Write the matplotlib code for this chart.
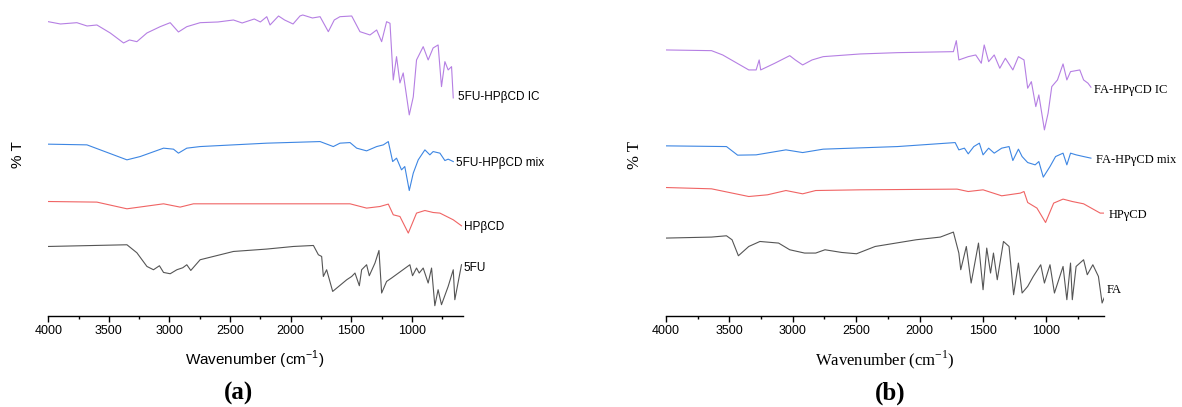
import numpy as np
import matplotlib
matplotlib.use('Agg')
import matplotlib.pyplot as plt
from matplotlib.ticker import MultipleLocator

# ---- panel (a): 5FU / HPbCD, values are %T with vertical offsets (a.u.) ----
a_ic_wn = [4000, 3900, 3764, 3680, 3599, 3489, 3379, 3330, 3269, 3186, 3077, 2994, 2926, 2857, 2747,
           2600, 2472, 2400, 2300, 2250, 2197, 2170, 2100, 2050, 1980, 1923, 1900, 1820, 1757, 1689,
           1640, 1593, 1496, 1428, 1345, 1290, 1249, 1208, 1180, 1153, 1126, 1098, 1071, 1021, 988,
           961, 906, 865, 824, 783, 755, 727, 700, 672, 658]
a_ic_t = [294.3, 292, 293.3, 290, 291, 283, 273, 276, 274.3, 283, 289.3, 293.3, 284, 289.3, 293.3,
          294, 296, 293, 297, 294, 299.3, 291, 300, 296, 292, 300, 301, 298, 299.3, 284.3,
          296, 299.3, 300, 284.3, 281, 286, 274.3, 294.3, 292.7, 236, 259.3, 233, 243, 201, 219,
          256, 269.3, 256, 268, 271, 229.3, 254.3, 246, 249.3, 218]

a_mix_wn = [4000, 3681, 3571, 3351, 3242, 3049, 2967, 2926, 2857, 2747, 2197, 1757, 1648, 1593, 1510,
            1455, 1373, 1290, 1235, 1194, 1158, 1126, 1085, 1058, 1021, 988, 947, 892, 851, 824, 768,
            727, 700, 658]
a_mix_t = [171.7, 171, 166, 156, 159.3, 167.7, 166.7, 162.7, 167.7, 169.3, 172.7, 174.3, 169.3, 172.7, 173.3,
           167.7, 165, 169.3, 171, 174.3, 154.3, 157.7, 146, 149.3, 125.3, 142.7, 156, 166, 161, 164.3, 162.7,
           155.3, 156.7, 154.3]

a_cd_wn = [4000, 3599, 3351, 3049, 2912, 2802, 2197, 1510, 1373, 1263, 1194, 1153, 1098, 1029, 961,
           892, 824, 768, 658, 590]
a_cd_t = [114.3, 113.7, 107, 112, 108.7, 112, 112, 112, 107.7, 109.3, 111.7, 101, 99.3, 82.7, 102.7,
          105.3, 103.3, 102.7, 96, 90]

a_drug_wn = [4000, 3351, 3269, 3186, 3132, 3083, 3049, 2994, 2939, 2890, 2857, 2824, 2747, 2472, 2197,
             1977, 1812, 1771, 1744, 1730, 1703, 1653, 1537, 1496, 1469, 1433, 1414, 1373, 1351, 1304,
             1271, 1249, 1208, 1167, 1016, 994, 961, 939, 906, 865, 837, 810, 783, 755, 700, 658, 645, 590]
a_drug_t = [69.3, 71, 63, 49.3, 46, 50, 43.3, 42, 46, 48, 51, 45.3, 56, 64.3, 66.7,
            69.3, 70.3, 61, 59.3, 39.3, 46, 24.3, 36, 39.3, 42.7, 30, 46, 51, 40, 52.7,
            65.3, 22.7, 34.3, 37.7, 51, 40, 47.7, 42.7, 47.7, 32.7, 47.7, 10, 26, 11, 29.3, 46, 16, 51]

# ---- panel (b): FA / HPgCD ----
b_ic_wn = [4000, 3641, 3553, 3347, 3289, 3265, 3253, 3142, 3024, 2980, 2922, 2848, 2760, 2467, 2174,
           1733, 1710, 1690, 1616, 1557, 1513, 1490, 1455, 1411, 1367, 1323, 1264, 1220, 1176, 1147,
           1118, 1083, 1059, 1015, 986, 957, 912, 868, 838, 809, 736, 706, 671, 648]
b_ic_t = [266, 265.3, 261, 246, 246, 256, 246, 252.7, 260.3, 256, 251, 256, 259.3, 262, 263.3,
          264.3, 275.3, 256, 259.3, 261, 252.7, 271, 254.3, 261, 247.7, 257.7, 246, 259.3, 256, 227.7,
          234.3, 209.3, 221, 186, 202.7, 229.3, 236, 252, 236, 244.3, 246, 236, 232.7, 228.7]

b_mix_wn = [4000, 3523, 3435, 3289, 3054, 2922, 2760, 2174, 1719, 1690, 1646, 1616, 1572, 1528, 1499,
            1455, 1411, 1352, 1294, 1264, 1220, 1191, 1147, 1088, 1059, 1024, 971, 927, 868, 838,
            809, 765, 706, 648]
b_mix_t = [170, 169.3, 160.7, 161, 166, 163.3, 166.7, 169.3, 173.3, 166, 167.7, 162, 169.3, 172.7, 161,
           167.7, 162.7, 167.7, 169.3, 155.3, 166.7, 159.3, 153.3, 151, 154.3, 138.7, 149.3, 159.3, 162.7, 151,
           162.7, 161, 159.3, 157.7]

b_cd_wn = [4000, 3641, 3347, 3200, 3054, 2922, 2819, 2467, 1704, 1616, 1499, 1352, 1205, 1176, 1147,
           1074, 1006, 942, 868, 795, 706, 575, 545]
b_cd_t = [128.3, 127, 119.3, 121, 125.3, 122, 125.3, 126, 126.7, 124.3, 126, 120, 122.7, 124.3, 113.3,
          107.7, 93.3, 112.7, 116.7, 114.3, 112, 102.7, 102.7]

b_drug_wn = [4000, 3641, 3523, 3479, 3429, 3347, 3259, 3112, 3024, 2907, 2819, 2746, 2614, 2497, 2350,
             2027, 1836, 1733, 1690, 1675, 1631, 1593, 1535, 1499, 1470, 1440, 1417, 1387, 1338, 1294,
             1258, 1220, 1191, 1147, 1103, 1044, 1015, 971, 936, 868, 838, 809, 795, 765, 706,
             677, 633, 589, 560, 539]
b_drug_t = [77.7, 78.7, 80, 76, 60, 69.3, 74.3, 72.7, 66, 62.7, 62.7, 66, 63.3, 62, 69.3,
            76, 78.7, 83.7, 62.7, 46, 69.3, 32.7, 72.7, 26, 67.7, 42.7, 62.7, 36, 74.3, 69.3,
            21, 52.7, 22.7, 29.3, 39.3, 51, 32.7, 51, 22.7, 49.3, 16, 52.7, 16, 49.3, 56,
            41, 51, 39.3, 12.7, 19.3]

labels_a = ['5FU-HPβCD IC', '5FU-HPβCD mix', 'HPβCD', '5FU']
labels_b = ['FA-HPγCD IC', 'FA-HPγCD mix', 'HPγCD', 'FA']
colors = ['#b57fe3', '#3d86e3', '#f06464', '#555555']

W, H = 1182, 407
fig = plt.figure(figsize=(W / 100, H / 100), dpi=100)


def px_axes(x0, x1, y_top, y_bot):
    return fig.add_axes([x0 / W, 1 - y_bot / H, (x1 - x0) / W, (y_bot - y_top) / H])


def style_axis(ax, xmax_wn):
    ax.set_xlim(4000, xmax_wn)
    ax.set_ylim(0, 311)
    for s in ['top', 'right', 'left']:
        ax.spines[s].set_visible(False)
    ax.spines['bottom'].set_linewidth(1.0)
    ax.set_yticks([])
    ax.xaxis.set_major_locator(MultipleLocator(500))
    ax.xaxis.set_minor_locator(MultipleLocator(250))
    ax.tick_params(axis='x', which='major', length=4.5, width=1, pad=2.5,
                   labelsize=9, labelfontfamily='Liberation Sans')
    ax.tick_params(axis='x', which='minor', length=2.5, width=1)


ax1 = px_axes(48.3, 462.7, 5, 315.7)
style_axis(ax1, 580)
series_a = [(a_ic_wn, a_ic_t), (a_mix_wn, a_mix_t), (a_cd_wn, a_cd_t), (a_drug_wn, a_drug_t)]
for (wn, t), c in zip(series_a, colors):
    ax1.plot(wn, t, color=c, lw=0.8)
lab_pos_a = [(620, 219), (636, 153), (570, 89), (570, 48)]
for lab, (x, y) in zip(labels_a, lab_pos_a):
    ax1.text(x, y, lab, fontsize=8.5, family='Liberation Sans', va='center', ha='left')

ax2 = px_axes(666, 1104, 5, 315.7)
style_axis(ax2, 545)
series_b = [(b_ic_wn, b_ic_t), (b_mix_wn, b_mix_t), (b_cd_wn, b_cd_t), (b_drug_wn, b_drug_t)]
for (wn, t), c in zip(series_b, colors):
    ax2.plot(wn, t, color=c, lw=0.8)
lab_pos_b = [(624, 226), (610, 156), (512, 101), (520, 26)]
for lab, (x, y) in zip(labels_b, lab_pos_b):
    ax2.text(x, y, lab, fontsize=9, family='Liberation Serif', va='center', ha='left')

# axis titles and panel letters
fig.text(255 / W, 1 - 360 / H, r'Wavenumber (cm$^{\mathregular{-1}}$)', fontsize=11,
         family='Liberation Sans', ha='center', va='center')
fig.text(885 / W, 1 - 360 / H, r'Wavenumber (cm$^{\mathregular{-1}}$)', fontsize=12,
         family='Liberation Serif', ha='center', va='center')
fig.text(18 / W, 1 - 155 / H, '% T', fontsize=11, family='Liberation Sans',
         rotation=90, ha='center', va='center')
fig.text(635 / W, 1 - 155 / H, '% T', fontsize=12, family='Liberation Serif',
         rotation=90, ha='center', va='center')
fig.text(239 / W, 1 - 393 / H, '(a)', fontsize=18, family='Liberation Serif',
         weight='bold', ha='center', va='center')
fig.text(890 / W, 1 - 393 / H, '(b)', fontsize=18, family='Liberation Serif',
         weight='bold', ha='center', va='center')

fig.savefig('out.png', dpi=100)
